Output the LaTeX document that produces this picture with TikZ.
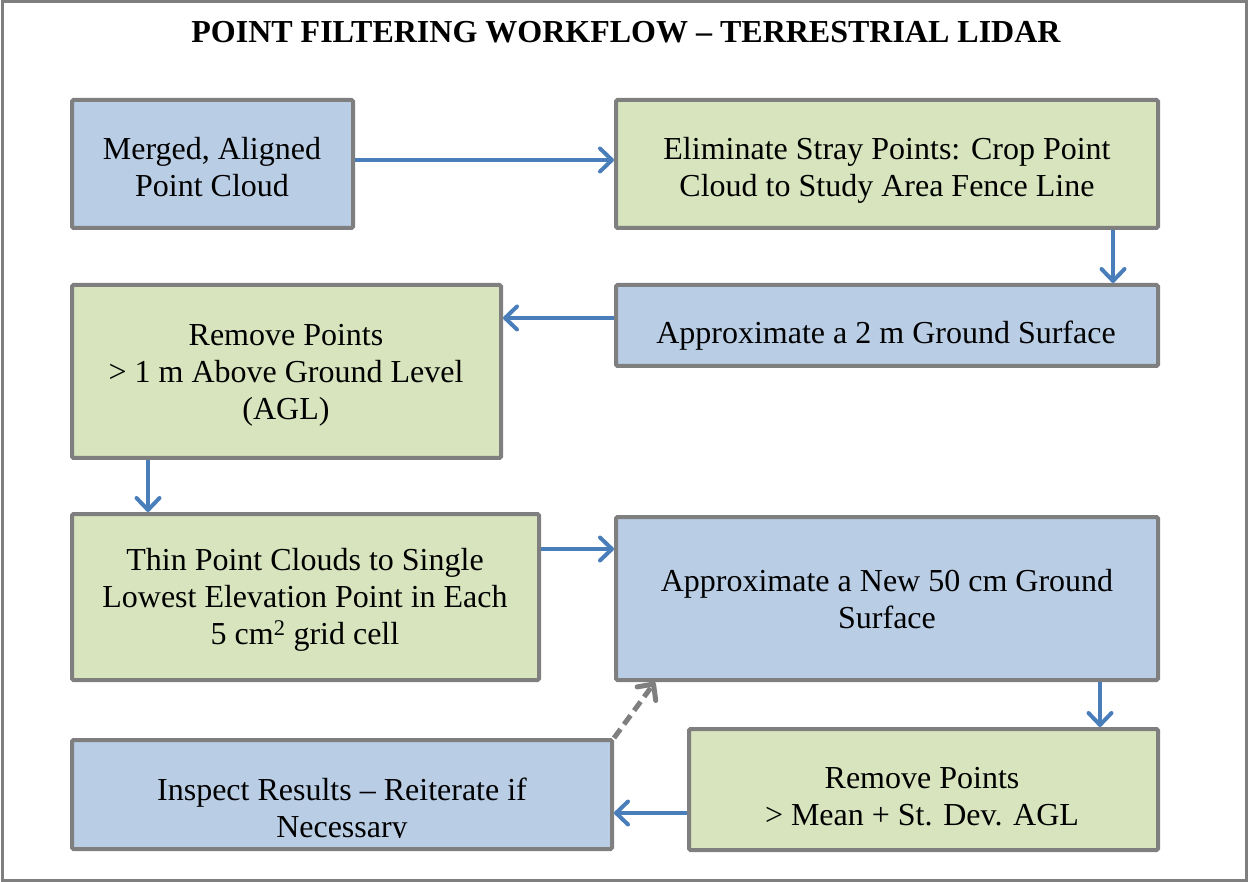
\documentclass[tikz,border=0pt]{standalone}
\usepackage{fontspec}
\setmainfont{Liberation Serif}
\usetikzlibrary{arrows.meta}
\definecolor{boxblue}{HTML}{B9CDE5}
\definecolor{boxgreen}{HTML}{D7E4BD}
\definecolor{edgegray}{HTML}{7F7F7F}
\definecolor{flowblue}{HTML}{4A7EBB}
\begin{document}
\begin{tikzpicture}[x=1pt,y=-1pt,
  box/.style={draw=edgegray, line width=4pt, rounded corners=1.5pt, inner sep=0pt, outer sep=2pt},
  bluebox/.style={box, fill=boxblue},
  greenbox/.style={box, fill=boxgreen},
  txt/.style={font=\fontsize{32}{37}\selectfont, align=center, inner sep=0pt},
  flow/.style={draw=flowblue, line width=4pt,
    -{Straight Barb[length=12pt,width=23pt,line cap=round,line join=round]}},
  loop/.style={draw=edgegray, line width=5pt, dash pattern=on 11pt off 6pt,
    -{Straight Barb[length=12pt,width=23pt,line cap=round,line join=round]}}]
\useasboundingbox (0,0) rectangle (1248,882);
\draw[edgegray, line width=3pt] (2,2) rectangle (1246,880);

% title
\node[txt, font=\fontsize{32}{37}\selectfont\bfseries] (title) at (626,32)
  {POINT FILTERING WORKFLOW -- TERRESTRIAL LIDAR};

% boxes
\node[bluebox,  minimum width=281pt, minimum height=128pt] (b1) at (212.5,164) {};
\node[greenbox, minimum width=542pt, minimum height=128pt] (b2) at (887,164) {};
\node[bluebox,  minimum width=542pt, minimum height=81pt]  (b3) at (887,325.5) {};
\node[greenbox, minimum width=429pt, minimum height=173pt] (b4) at (286.5,371.5) {};
\node[greenbox, minimum width=467pt, minimum height=166pt] (b5) at (305.5,597) {};
\node[bluebox,  minimum width=542pt, minimum height=163pt] (b6) at (887,598.5) {};
\node[greenbox, minimum width=469pt, minimum height=121pt] (b7) at (923.5,789.5) {};
\node[bluebox,  minimum width=540pt, minimum height=109pt] (b8) at (342,794.5) {};

% box texts
\node[txt] (t1) at (212,167) {Merged, Aligned\\Point Cloud};
\node[txt] (t2) at (887,170) {Eliminate Stray Points: Crop Point\\Cloud to Study Area Fence Line};
\node[txt] (t3) at (886,336) {Approximate a 2 m Ground Surface};
\node[txt] (t4) at (286,375) {Remove Points\\> 1 m Above Ground Level\\(AGL)};
\node[txt] (t5) at (305,600) {Thin Point Clouds to Single\\Lowest Elevation Point in Each\\5 cm\textsuperscript{2} grid cell};
\node[txt] (t6) at (887,599) {Approximate a New 50 cm Ground\\Surface};
\node[txt] (t7) at (922,797) {Remove Points\\> Mean + St. Dev. AGL};
\begin{scope}
  \clip (72,742) rectangle (612,837);
  \node[txt] (t8) at (342,811) {Inspect Results -- Reiterate if\\Necessary};
\end{scope}

% connectors
\draw[flow] ([yshift=4pt]b1.east) -- ([yshift=4pt]b2.west);
\draw[flow] (b2.south -| 1113,0) -- (b3.north -| 1113,0);
\draw[flow] (b3.west |- 0,318) -- (b4.east |- 0,318);
\draw[flow] (b4.south -| 148,0) -- (b5.north -| 148,0);
\draw[flow] (b5.east |- 0,549) -- (b6.west |- 0,549);
\draw[flow] (b6.south -| 1100,0) -- (b7.north -| 1100,0);
\draw[flow] (b7.west |- 0,813) -- (b8.east |- 0,813);
\draw[loop] (b8.north east) -- (b6.south -| 655,0);
\end{tikzpicture}
\end{document}
